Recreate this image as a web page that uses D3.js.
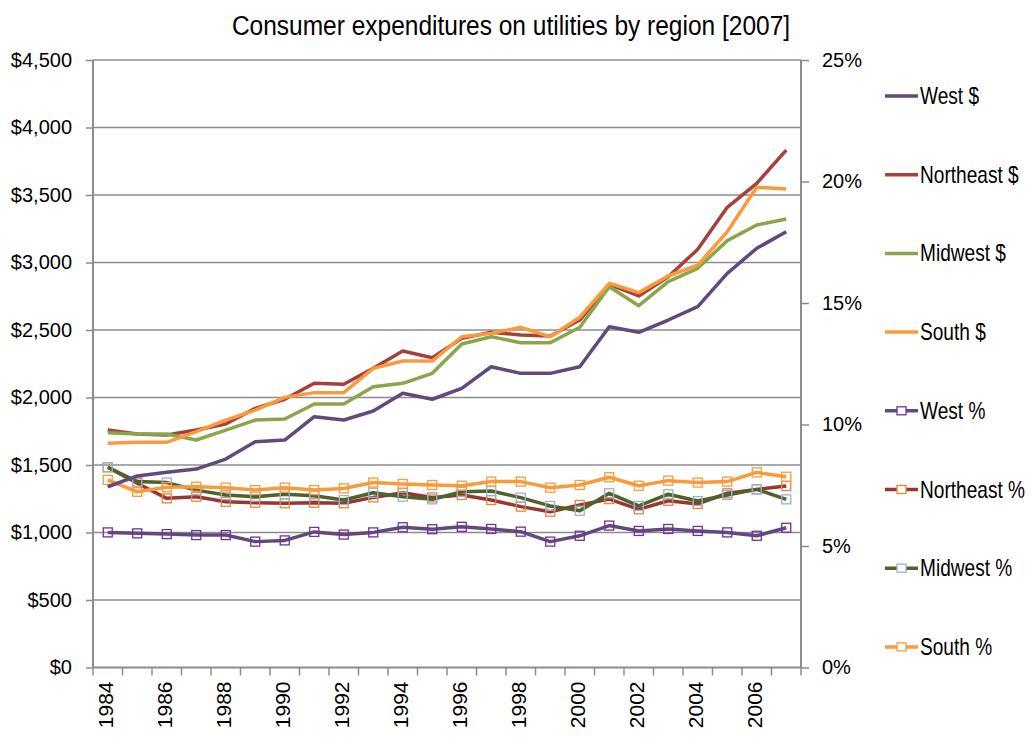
<!DOCTYPE html>
<html>
<head>
<meta charset="utf-8">
<script src="https://cdn.jsdelivr.net/npm/d3@7"></script>
<style>
  body { margin: 0; background: #fff; }
  svg { font-family: "Liberation Sans", Arial, sans-serif; }
</style>
</head>
<body>
<svg id="chart" width="1032" height="738"></svg>
<script>
// Consumer expenditures on utilities by region, 1984-2007
// dollars on the left axis, share of spending on the right axis

let years = d3.range(1984, 2008);

let westDollars = [1339, 1419, 1446, 1470, 1544, 1673, 1685, 1858, 1833, 1900, 2031, 1987,
                   2068, 2228, 2179, 2179, 2228, 2524, 2483, 2574, 2673, 2920, 3105, 3228];
let northeastDollars = [1759, 1730, 1722, 1759, 1804, 1920, 1987, 2105, 2098, 2216, 2344, 2295,
                        2438, 2483, 2463, 2456, 2574, 2838, 2752, 2895, 3098, 3409, 3586, 3833];
let midwestDollars = [1739, 1730, 1730, 1685, 1759, 1833, 1841, 1952, 1952, 2080, 2105, 2179,
                      2396, 2450, 2406, 2406, 2520, 2821, 2680, 2858, 2957, 3162, 3278, 3322];
let southDollars = [1661, 1668, 1668, 1747, 1833, 1907, 2001, 2036, 2036, 2216, 2270, 2270,
                    2450, 2475, 2520, 2450, 2594, 2846, 2777, 2900, 2981, 3228, 3557, 3544];

let westPct = [5.56, 5.52, 5.49, 5.45, 5.45, 5.18, 5.23, 5.58, 5.47, 5.56, 5.77, 5.69,
               5.79, 5.70, 5.59, 5.18, 5.42, 5.84, 5.62, 5.70, 5.62, 5.56, 5.42, 5.75];
let northeastPct = [8.24, 7.58, 6.96, 7.03, 6.82, 6.78, 6.76, 6.78, 6.76, 7.00, 7.19, 7.00,
                    7.10, 6.89, 6.62, 6.41, 6.69, 6.93, 6.51, 6.86, 6.73, 7.17, 7.33, 7.47];
let midwestPct = [8.24, 7.65, 7.61, 7.30, 7.10, 7.03, 7.13, 7.07, 6.89, 7.19, 7.03, 6.92,
                  7.23, 7.26, 6.99, 6.65, 6.45, 7.17, 6.65, 7.13, 6.85, 7.10, 7.33, 6.92];
let southPct = [7.72, 7.23, 7.42, 7.44, 7.40, 7.30, 7.40, 7.30, 7.37, 7.61, 7.55, 7.51,
                7.48, 7.65, 7.65, 7.40, 7.51, 7.83, 7.48, 7.69, 7.61, 7.65, 8.03, 7.85];

let dollarTicks = d3.range(0, 4501, 500);
let pctTicks = [0, 5, 10, 15, 20, 25];

let series = [
  {name: "West $", values: westDollars, axis: "left", line: "#604a7b", marker: null},
  {name: "Northeast $", values: northeastDollars, axis: "left", line: "#a5403d", marker: null},
  {name: "Midwest $", values: midwestDollars, axis: "left", line: "#8aa64a", marker: null},
  {name: "South $", values: southDollars, axis: "left", line: "#fb9a3a", marker: null},
  {name: "West %", values: westPct, axis: "right", line: "#604a7b", marker: "#7030a0"},
  {name: "Northeast %", values: northeastPct, axis: "right", line: "#953735", marker: "#e9843a"},
  {name: "Midwest %", values: midwestPct, axis: "right", line: "#4f6228", marker: "#95b3d7"},
  {name: "South %", values: southPct, axis: "right", line: "#fb9a3a", marker: "#fb9a3a"}
];

// no narrow font installed, so condensed text is squeezed horizontally
let NARROW = 0.83;

let margin = {left: 93, right: 1032 - 801, top: 60, bottom: 738 - 667.5};
let svg = d3.select("#chart");
let width = 1032 - margin.left - margin.right;
let height = 738 - margin.top - margin.bottom;

let x = d3.scaleBand().domain(years).range([0, width]);
let yLeft = d3.scaleLinear().domain([0, 4500]).range([height, 0]);
let yRight = d3.scaleLinear().domain([0, 25]).range([height, 0]);

let g = svg.append("g").attr("transform", "translate(" + margin.left + "," + margin.top + ")");

// title
svg.append("text")
  .attr("transform", "translate(511,35) scale(0.875,1)")
  .attr("text-anchor", "middle")
  .style("font-size", "28px")
  .style("fill", "#000")
  .text("Consumer expenditures on utilities by region [2007]");

// gridlines
g.append("g").selectAll("line")
  .data(dollarTicks.slice(1))
  .enter().append("line")
    .attr("x1", 0).attr("x2", width)
    .attr("y1", d => yLeft(d)).attr("y2", d => yLeft(d))
    .style("stroke", "#8c8c8c").style("stroke-width", 1.5);

// left axis
let leftAxis = g.append("g")
  .call(d3.axisLeft(yLeft).tickValues(dollarTicks).tickSize(7).tickPadding(14)
    .tickFormat(d => "$" + d3.format(",")(d)));
leftAxis.select(".domain").remove();
leftAxis.selectAll("line").style("stroke", "#8c8c8c").style("stroke-width", 1.5);
leftAxis.selectAll("text").style("font-size", "20px").style("fill", "#000");

// right axis
let rightAxis = g.append("g")
  .attr("transform", "translate(" + width + ",0)")
  .call(d3.axisRight(yRight).tickValues(pctTicks).tickSize(8).tickPadding(13)
    .tickFormat(d => d + "%"));
rightAxis.select(".domain").remove();
rightAxis.selectAll("line").style("stroke", "#8c8c8c").style("stroke-width", 1.5);
rightAxis.selectAll("text").style("font-size", "20px").style("fill", "#000");

// x axis: ticks sit between categories, labels on even years
let boundaries = years.map(d => x(d)).concat([width]);
g.append("g").selectAll("line")
  .data(boundaries)
  .enter().append("line")
    .attr("x1", d => d).attr("x2", d => d)
    .attr("y1", height).attr("y2", height + 8)
    .style("stroke", "#8c8c8c").style("stroke-width", 1.5);

g.append("g").selectAll("text")
  .data(years.filter(d => d % 2 === 0))
  .enter().append("text")
    .attr("transform", d => "translate(" + (x(d) + x.bandwidth() / 2 + 5) + "," + (height + 14) + ") rotate(-90)")
    .attr("text-anchor", "end")
    .style("font-size", "21px")
    .text(d => d);

// axis lines
g.append("line").attr("x1", 0).attr("x2", 0).attr("y1", 0).attr("y2", height)
  .style("stroke", "#8c8c8c").style("stroke-width", 2);
g.append("line").attr("x1", width).attr("x2", width).attr("y1", 0).attr("y2", height)
  .style("stroke", "#8c8c8c").style("stroke-width", 2);
g.append("line").attr("x1", 0).attr("x2", width).attr("y1", height).attr("y2", height)
  .style("stroke", "#8c8c8c").style("stroke-width", 2);

// lines, percent series first so dollar lines stay above them
let drawOrder = series.slice(4).concat(series.slice(0, 4));
drawOrder.forEach(function(s) {
  let y = s.axis === "left" ? yLeft : yRight;
  let line = d3.line()
    .x((d, i) => x(years[i]) + x.bandwidth() / 2)
    .y(d => y(d));
  g.append("path")
    .datum(s.values)
    .attr("d", line)
    .style("fill", "none")
    .style("stroke", s.line)
    .style("stroke-width", 3.5)
    .style("stroke-linejoin", "round");
  if (s.marker) {
    g.append("g").selectAll("rect")
      .data(s.values)
      .enter().append("rect")
        .attr("x", (d, i) => x(years[i]) + x.bandwidth() / 2 - 4.5)
        .attr("y", d => y(d) - 4.5)
        .attr("width", 9).attr("height", 9)
        .style("fill", "none")
        .style("stroke", s.marker)
        .style("stroke-width", 1.3);
  }
});

// legend
let legend = svg.append("g").attr("transform", "translate(885,96)");
let entries = legend.selectAll("g")
  .data(series)
  .enter().append("g")
    .attr("transform", (d, i) => "translate(0," + i * 78.7 + ")");
entries.append("line")
  .attr("x1", 0).attr("x2", 33)
  .style("stroke", d => d.line).style("stroke-width", 3.5);
entries.filter(d => d.marker).append("rect")
  .attr("x", 12).attr("y", -4).attr("width", 9).attr("height", 8)
  .style("fill", "#fff")
  .style("stroke", d => d.marker).style("stroke-width", 1.3);
entries.append("text")
  .attr("transform", "translate(35,8) scale(" + NARROW + ",1)")
  .style("font-size", "23px")
  .text(d => d.name);
</script>
</body>
</html>
